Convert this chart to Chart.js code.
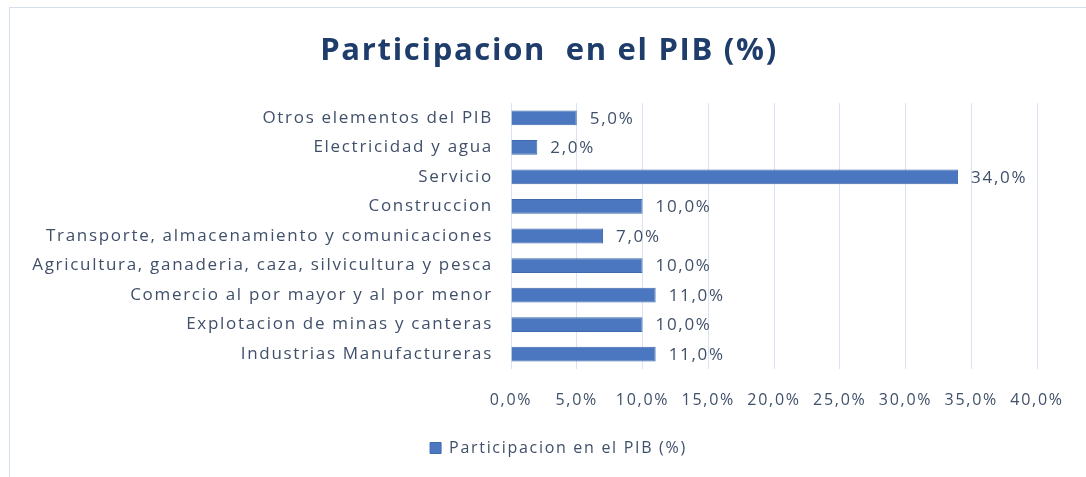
<!DOCTYPE html>
<html lang="es">
<head>
<meta charset="UTF-8">
<title>Participacion en el PIB</title>
<script src="https://cdn.jsdelivr.net/npm/chart.js@4"></script>
<style>
    body { margin: 0; background: #fff; }
    .marco {
        position: absolute; left: 9px; top: 7px; width: 1090px; height: 480px;
        border-left: 1px solid #d5e0ee; border-top: 1px solid #d5e0ee;
    }
    #grafico { position: absolute; left: 0; top: 0; }
</style>
</head>
<body>
<div class="marco"></div>
<canvas id="grafico" width="1086" height="477"></canvas>

<script>
    // datos (de arriba hacia abajo)
    const categorias = [
        "Otros elementos del PIB",
        "Electricidad y agua",
        "Servicio",
        "Construccion",
        "Transporte, almacenamiento y comunicaciones",
        "Agricultura, ganaderia, caza, silvicultura y pesca",
        "Comercio al por mayor y al por menor",
        "Explotacion de minas y canteras",
        "Industrias Manufactureras"
    ];
    const participacion = [5, 2, 34, 10, 7, 10, 11, 10, 11];
    const nombreSerie = "Participacion en el PIB (%)";
    const titulo = "Participacion  en el PIB (%)";

    const colorTexto = "#40506a";
    const fuente = "'Open Sans', 'DejaVu Sans', sans-serif";

    function porcentaje(v) {
        return Number(v).toFixed(1).replace(".", ",") + "%";
    }

    // texto algo espaciado, como en el original
    const espaciado = {
        id: "espaciado",
        beforeDraw(chart) {
            chart.ctx.letterSpacing = "1.7px";
        }
    };

    // el titulo y la leyenda estan un poco corridos a la derecha
    const centrar = {
        id: "centrar",
        afterLayout(chart) {
            chart.titleBlock.left += 49;
            chart.legend.left += 22;
        }
    };

    // etiquetas al final de cada barra
    const etiquetas = {
        id: "etiquetas",
        afterDatasetsDraw(chart) {
            const ctx = chart.ctx;
            const meta = chart.getDatasetMeta(0);
            ctx.save();
            ctx.font = "17px " + fuente;
            ctx.fillStyle = colorTexto;
            ctx.textAlign = "left";
            ctx.textBaseline = "middle";
            meta.data.forEach(function (barra, i) {
                ctx.fillText(porcentaje(participacion[i]), barra.x + 13, barra.y + 1);
            });
            ctx.restore();
        }
    };

    new Chart(document.getElementById("grafico"), {
        type: "bar",
        data: {
            labels: categorias,
            datasets: [{
                label: nombreSerie,
                data: participacion,
                backgroundColor: "#4a77bf",
                borderColor: "#3f69ad",
                borderWidth: 1,
                categoryPercentage: 1,
                barPercentage: 0.5
            }]
        },
        options: {
            indexAxis: "y",
            responsive: false,
            animation: false,
            layout: { padding: { left: 12, right: 49, top: 0, bottom: 11 } },
            scales: {
                x: {
                    min: 0,
                    max: 40,
                    ticks: {
                        stepSize: 5,
                        color: colorTexto,
                        font: { family: fuente, size: 16 },
                        padding: 22,
                        callback: function (v) { return porcentaje(v); }
                    },
                    grid: { color: "#d9e3f2", drawTicks: false },
                    border: { display: false }
                },
                y: {
                    ticks: {
                        color: colorTexto,
                        font: { family: fuente, size: 17 },
                        padding: 18
                    },
                    grid: { display: false, drawTicks: false },
                    border: { display: false },
                    afterFit: function (scale) { scale.width = 499; }
                }
            },
            plugins: {
                title: {
                    display: true,
                    text: titulo,
                    color: "#1f3d6b",
                    font: { family: fuente, size: 31, weight: "bold" },
                    padding: { top: 33, bottom: 33 }
                },
                legend: {
                    position: "bottom",
                    labels: {
                        color: colorTexto,
                        font: { family: fuente, size: 16 },
                        boxWidth: 11,
                        boxHeight: 11,
                        padding: 8
                    }
                },
                tooltip: { enabled: false }
            }
        },
        plugins: [espaciado, centrar, etiquetas]
    });
</script>
</body>
</html>
